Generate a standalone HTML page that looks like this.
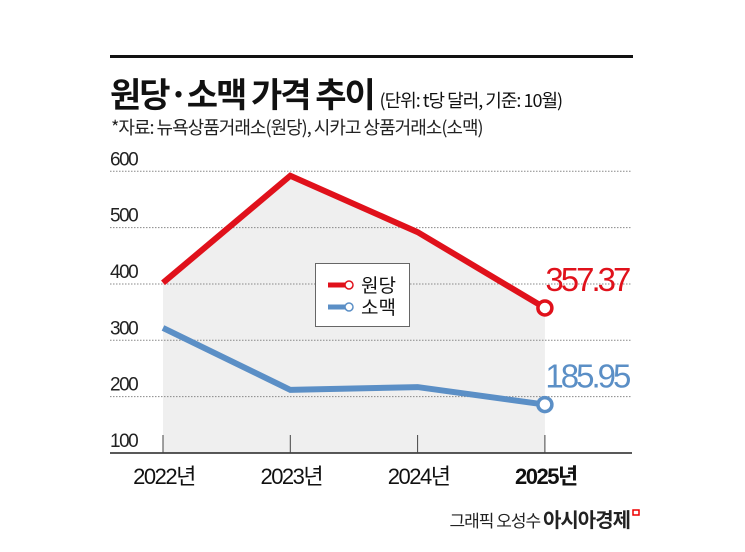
<!DOCTYPE html>
<html><head><meta charset="utf-8"><style>
body{margin:0;background:#fff;width:745px;height:552px;overflow:hidden;font-family:"Liberation Sans","Noto Sans CJK KR",sans-serif;}
svg{display:block}
</style></head><body>
<svg id="c" width="745" height="552">
<rect x="110" y="55" width="523" height="3" fill="#111"/>
<text x="110" y="107" font-size="34" font-weight="bold" fill="#111" letter-spacing="-2" font-family="Noto Sans CJK KR, sans-serif">원당·소맥 가격 추이 <tspan font-size="18" font-weight="normal" letter-spacing="-1">(단위: t당 달러, 기준: 10월)</tspan></text>
<text x="111" y="134" font-size="18" fill="#222" letter-spacing="-1" font-family="Noto Sans CJK KR, sans-serif">*자료: 뉴욕상품거래소(원당), 시카고 상품거래소(소맥)</text>
<g id="plot"></g>
<text x="630" y="527" text-anchor="end" font-size="17" fill="#222" letter-spacing="-1" font-family="Noto Sans CJK KR, sans-serif">그래픽 오성수 <tspan font-weight="bold" font-size="20">아시아경제</tspan></text>
<path d="M633 510h6v5h-6z" fill="none" stroke="#e00" stroke-width="1.5"/>
</svg>
<script>
const categories=["2022년","2023년","2024년","2025년"];
const sugar=[402,592,492,357.37];
const wheat=[322,212,217,185.95];
const yTicks=[100,200,300,400,500,600];
const NS="http://www.w3.org/2000/svg";
const g=document.getElementById('plot');
const xs=i=>163+i*127.3;
const ys=v=>453-(v-100)*0.5635;
function mk(t,a){const e=document.createElementNS(NS,t);for(const k in a)e.setAttribute(k,a[k]);g.appendChild(e);return e;}
let d="M"+xs(0)+" 453";sugar.forEach((v,i)=>d+=" L"+xs(i)+" "+ys(v));d+=" L"+xs(3)+" 453Z";
let f=mk('path',{d:d,fill:'#efefef'});


yTicks.forEach(t=>{
 if(t>100){let l=mk('line',{x1:110,x2:632,y1:ys(t),y2:ys(t),stroke:'#888','stroke-dasharray':'1.5 1.5','stroke-width':1});
 
 }
 let tx=mk('text',{x:110,y:ys(t)-6,'font-size':19,fill:'#222','letter-spacing':'-1.5'});tx.textContent=t;
 
 
});
let ax=mk('line',{x1:110,x2:632,y1:453,y2:453,stroke:'#222','stroke-width':1.5});


categories.forEach((c,i)=>{
 let tk=mk('line',{x1:xs(i),x2:xs(i),y1:435,y2:453,stroke:'#444','stroke-width':1});
 
 
 let t=mk('text',{x:xs(i)+1,y:484,'text-anchor':'middle','font-size':22,fill:'#111','letter-spacing':'-1.5','font-weight':i==3?'bold':'normal','font-family':'Liberation Sans, Noto Sans CJK KR, sans-serif'});t.textContent=c;
 
 
});
function series(arr,col,name){
 let p=arr.map((v,i)=>xs(i)+","+ys(v)).join(" ");
 let l=mk('polyline',{points:p,fill:'none',stroke:col,'stroke-width':6,'stroke-linejoin':'miter'});
 
 
 let c=mk('circle',{cx:xs(3),cy:ys(arr[3]),r:7,fill:'#fff',stroke:col,'stroke-width':3.5});
 
 
 let t=mk('text',{x:xs(3)+42,y:ys(arr[3])-17,'text-anchor':'middle','font-size':33,fill:col,'letter-spacing':'-3'});t.textContent=arr[3].toFixed(2);
 
 
}
series(sugar,'#e0111b','sugar');
series(wheat,'#5b8fc6','wheat');
let lb=mk('rect',{x:315.5,y:263.5,width:94,height:63,fill:'#fff',stroke:'#666','stroke-width':1});


[['원당','#e0111b'],['소맥','#5b8fc6']].forEach((e,i)=>{
 let y=285+i*22;
 let l=mk('line',{x1:328,x2:345,y1:y,y2:y,stroke:e[1],'stroke-width':5});
 
 
 let c=mk('circle',{cx:349,cy:y,r:4,fill:'#fff',stroke:e[1],'stroke-width':1.5});
 
 
 let t=mk('text',{x:361,y:y+7,'font-size':19,fill:'#111','font-family':'Noto Sans CJK KR, sans-serif'});t.textContent=e[0];
 
 
});
</script>
</body></html>
